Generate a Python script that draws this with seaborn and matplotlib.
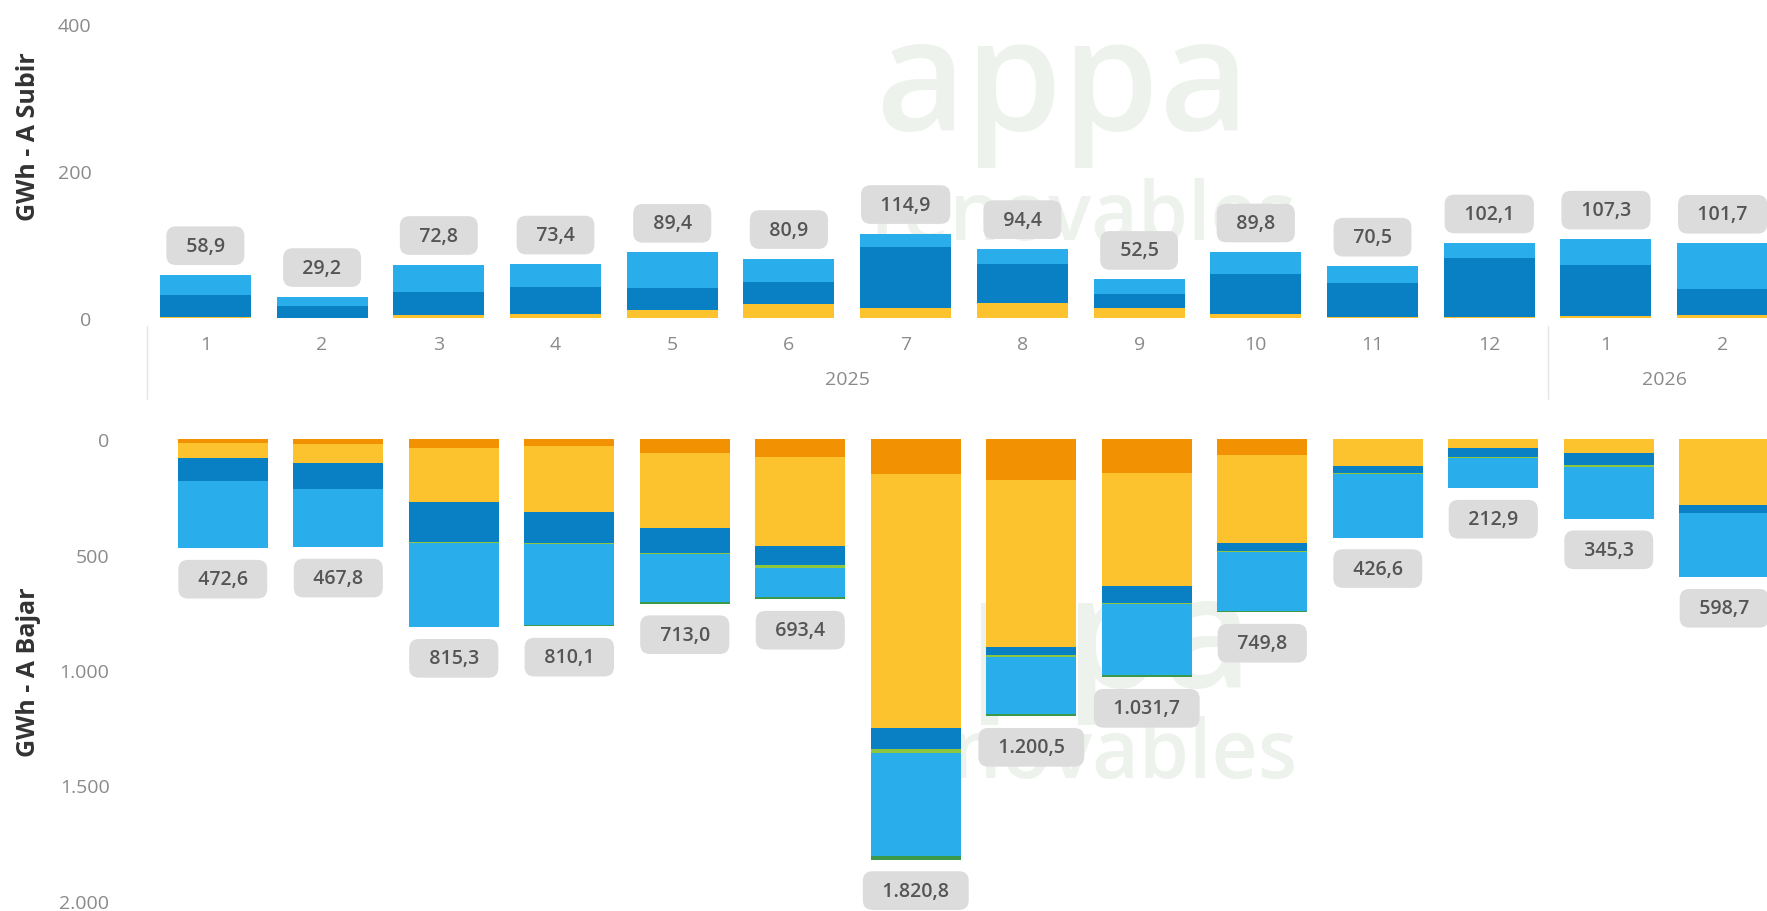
import matplotlib
matplotlib.use('Agg')
import matplotlib.pyplot as plt
import seaborn as sns
import pandas as pd
from matplotlib.ticker import FuncFormatter
from matplotlib.transforms import blended_transform_factory

# categories
months = ['1', '2', '3', '4', '5', '6', '7', '8', '9', '10', '11', '12', '1', '2']
years = ['2025', '2026']
year_of_month = ['2025'] * 12 + ['2026'] * 2

# GWh a subir (segments from 0 upward)
up_yellow = [1, 0.5, 4, 6, 11, 19, 14, 20, 13, 6, 2, 2, 3, 4]
up_dark = [30, 16, 32, 36, 30, 30, 83, 54, 19, 54, 45, 79, 69, 36]
up_light = [27.9, 12.7, 36.8, 31.4, 48.4, 31.9, 17.9, 20.4, 20.5, 29.8, 23.5, 21.1, 35.3, 61.7]
up_total = [58.9, 29.2, 72.8, 73.4, 89.4, 80.9, 114.9, 94.4, 52.5, 89.8, 70.5, 102.1, 107.3, 101.7]

# GWh a bajar (segments from 0 downward)
down_orange = [19, 23, 37, 30, 62, 79, 153, 177, 148, 67, 0, 0, 0, 0]
down_yellow = [61, 79, 237, 288, 324, 382, 1098, 725, 490, 383, 117, 38, 62, 287]
down_dark = [100, 115, 173, 133, 108, 86, 91, 32, 72, 33, 29, 39, 51, 32]
down_lime = [1, 1, 2, 2, 4, 11, 17, 8, 5, 8, 5, 3, 6, 0]
down_light = [291.6, 249.8, 366.3, 354.1, 209, 125.4, 447.8, 248.5, 306.7, 254.8, 275.6, 132.9, 226.3, 279.7]
down_green = [0, 0, 0, 3, 6, 10, 14, 10, 10, 4, 0, 0, 0, 0]
down_total = [472.6, 467.8, 815.3, 810.1, 713.0, 693.4, 1820.8, 1200.5, 1031.7, 749.8, 426.6, 212.9, 345.3, 598.7]

C_LIGHT = '#29ADEB'
C_DARK = '#0880C3'
C_YELLOW = '#FDC32E'
C_ORANGE = '#F29203'
C_LIME = '#8DC63F'
C_GREEN = '#3B9A4A'
C_MARK = '#EDF3EC'


def fmt_es(v):
    s = f"{v:,.1f}"
    return s.replace(',', 'X').replace('.', ',').replace('X', '.')


sns.set_theme(style='white')
plt.rcParams['font.family'] = ['Open Sans', 'DejaVu Sans']

slots = [f"{y}-{m}" for y, m in zip(year_of_month, months)]

df_up = pd.DataFrame({'slot': slots, 'yellow': up_yellow, 'dark': up_dark, 'light': up_light})
df_up['c1'] = df_up['yellow']
df_up['c2'] = df_up['c1'] + df_up['dark']
df_up['c3'] = df_up['c2'] + df_up['light']

df_dn = pd.DataFrame({'slot': slots, 'orange': down_orange, 'yellow': down_yellow, 'dark': down_dark,
                      'lime': down_lime, 'light': down_light, 'green': down_green})
df_dn['c1'] = df_dn['orange']
df_dn['c2'] = df_dn['c1'] + df_dn['yellow']
df_dn['c3'] = df_dn['c2'] + df_dn['dark']
df_dn['c4'] = df_dn['c3'] + df_dn['lime']
df_dn['c5'] = df_dn['c4'] + df_dn['light']
df_dn['c6'] = df_dn['c5'] + df_dn['green']

fig = plt.figure(figsize=(17.67, 9.12), dpi=100)
ax_up = fig.add_axes([0.0832, 0.6502, 1 - 0.0832, 0.3224])
ax_dn = fig.add_axes([0.0934, 0.011, 1 - 0.0934, 0.5065])

bar_w = 0.78
tick_col = '#8A8A8A'
box = dict(boxstyle='round,pad=0.48,rounding_size=0.5', fc='#DCDCDC', ec='none')

# faint watermark behind the bars
ax_up.text(0.565, 0.643, 'appa', transform=ax_up.transAxes, fontsize=112, color=C_MARK,
           ha='center', va='baseline', fontweight='semibold', zorder=0)
ax_up.text(0.578, 0.269, 'renovables', transform=ax_up.transAxes, fontsize=58, color=C_MARK,
           ha='center', va='baseline', fontweight='semibold', zorder=0)
ax_dn.text(0.562, 0.465, 'appa', transform=ax_dn.transAxes, fontsize=112, color=C_MARK,
           ha='center', va='baseline', fontweight='semibold', zorder=0)
ax_dn.text(0.574, 0.268, 'renovables', transform=ax_dn.transAxes, fontsize=58, color=C_MARK,
           ha='center', va='baseline', fontweight='semibold', zorder=0)

# top stacked bars (draw cumulative from tallest down)
for col, c in [('c3', C_LIGHT), ('c2', C_DARK), ('c1', C_YELLOW)]:
    sns.barplot(data=df_up, x='slot', y=col, color=c, saturation=1, width=bar_w,
                errorbar=None, ax=ax_up, edgecolor='none', zorder=2)

for i, v in enumerate(up_total):
    ax_up.annotate('  ' + fmt_es(v) + '  ', xy=(i, df_up['c3'][i]), xytext=(0, 29),
                   textcoords='offset pixels', ha='center', va='center', fontsize=14,
                   fontweight='semibold', color='#555555', bbox=box, zorder=5)

ax_up.set_ylim(0, 400)
ax_up.set_yticks([0, 200, 400])
ax_up.set_xlim(-0.5, 13.38)
ax_up.set_xticks(range(len(months)))
ax_up.set_xticklabels(months)
ax_up.set_xlabel('')
ax_up.set_ylabel('GWh - A Subir', fontsize=18, fontweight='bold', color='#333333')
ax_up.yaxis.set_label_coords(-0.0654, 0.619)
ax_up.tick_params(axis='y', length=0, pad=40, labelsize=14, labelcolor=tick_col)
ax_up.tick_params(axis='x', length=0, pad=12, labelsize=14, labelcolor=tick_col)
sns.despine(ax=ax_up, left=True, bottom=True)

# year labels and group separators
tr = blended_transform_factory(ax_up.transData, ax_up.transAxes)
for yr in years:
    idx = [i for i, y in enumerate(year_of_month) if y == yr]
    ax_up.text((idx[0] + idx[-1]) / 2, -0.207, yr, transform=tr, ha='center', va='center',
               fontsize=14, color=tick_col)
for xs in [-0.5, 11.5]:
    ax_up.plot([xs, xs], [-0.027, -0.276], transform=tr, color='#E4E4E4', lw=1, clip_on=False)

# bottom stacked bars
for col, c in [('c6', C_GREEN), ('c5', C_LIGHT), ('c4', C_LIME), ('c3', C_DARK),
               ('c2', C_YELLOW), ('c1', C_ORANGE)]:
    sns.barplot(data=df_dn, x='slot', y=col, color=c, saturation=1, width=bar_w,
                errorbar=None, ax=ax_dn, edgecolor='none', zorder=2)

for i, v in enumerate(down_total):
    ax_dn.annotate('  ' + fmt_es(v) + '  ', xy=(i, df_dn['c6'][i]), xytext=(0, -31),
                   textcoords='offset pixels', ha='center', va='center', fontsize=14,
                   fontweight='semibold', color='#555555', bbox=box, zorder=5)

ax_dn.set_ylim(2000, 0)
ax_dn.set_yticks([0, 500, 1000, 1500, 2000])
ax_dn.yaxis.set_major_formatter(FuncFormatter(lambda v, p: f"{int(v):,}".replace(',', '.')))
ax_dn.set_xlim(-0.5, 13.37)
ax_dn.set_xticks([])
ax_dn.set_xlabel('')
ax_dn.set_ylabel('GWh - A Bajar', fontsize=18, fontweight='bold', color='#333333')
ax_dn.yaxis.set_label_coords(-0.0774, 0.498)
ax_dn.tick_params(axis='y', length=0, pad=40, labelsize=14, labelcolor=tick_col)
sns.despine(ax=ax_dn, left=True, bottom=True)

fig.savefig('out.png', dpi=100)
